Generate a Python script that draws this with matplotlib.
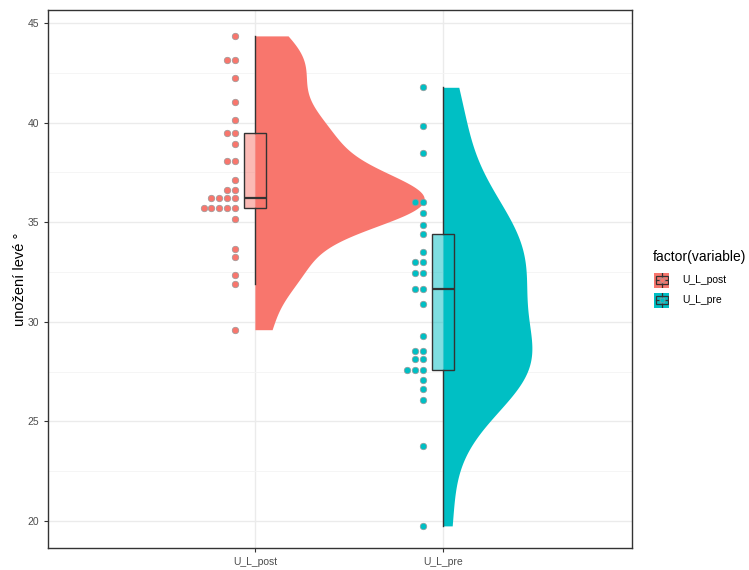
import numpy as np
import matplotlib.pyplot as plt
from matplotlib.colors import to_rgb
from matplotlib.patches import Rectangle

plt.rcParams['font.family'] = ['Liberation Sans', 'DejaVu Sans']

groups = ['U_L_post', 'U_L_pre']
colors = ['#F8766D', '#00BFC4']

# measured values (deg) per group
u_l_post = [44.35, 43.13, 43.13, 42.24, 41.03, 40.15, 39.49, 39.49, 38.94,
            38.06, 38.06, 37.10, 36.62, 36.62, 36.2, 36.2, 36.2, 36.2,
            35.71, 35.71, 35.71, 35.71, 35.71, 35.16, 33.67, 33.25, 32.35,
            31.88, 29.60]
u_l_pre = [41.77, 39.84, 38.47, 36.01, 36.01, 35.48, 34.86, 34.39, 33.49,
           33.02, 33.02, 32.43, 32.43, 31.65, 31.65, 30.88, 29.30, 28.53,
           28.53, 28.13, 28.13, 27.58, 27.58, 27.58, 27.09, 26.61, 26.07,
           23.75, 19.75]
data = [np.array(u_l_post), np.array(u_l_pre)]


def nrd0(x):
    sd = np.std(x, ddof=1)
    iqr = np.subtract(*np.percentile(x, [75, 25]))
    lo = min(sd, iqr / 1.34)
    return 0.9 * lo * len(x) ** -0.2


def kde(x, n=512):
    bw = nrd0(x)
    grid = np.linspace(x.min(), x.max(), n)
    d = np.exp(-0.5 * ((grid[:, None] - x[None, :]) / bw) ** 2).sum(axis=1)
    d /= len(x) * bw * np.sqrt(2 * np.pi)
    return grid, d


dens = [kde(x) for x in data]
dmax = max(d.max() for _, d in dens)

fig = plt.figure(figsize=(7.49, 5.70), dpi=100)
ax = fig.add_axes([48 / 749, 1 - 548 / 570, 584 / 749, 538 / 570])

positions = [1, 2]
vwidth = 0.9
for pos, (grid, d), col in zip(positions, dens, colors):
    ax.fill_betweenx(grid, pos, pos + d / dmax * vwidth, color=col, lw=0, zorder=2)

bp = ax.boxplot(data, positions=positions, widths=0.12, patch_artist=True,
                showfliers=False, showcaps=False, whis=1.5, manage_ticks=False,
                zorder=3)
for box, col in zip(bp['boxes'], colors):
    box.set_facecolor((*to_rgb(col), 0.5))
    box.set_edgecolor('#333333')
    box.set_linewidth(1.0)
for w in bp['whiskers']:
    w.set_color('#333333')
    w.set_linewidth(1.0)
for m in bp['medians']:
    m.set_color('#333333')
    m.set_linewidth(1.6)

# stacked dots to the left of each box
for pos, x, col in zip(positions, data, colors):
    vals, counts = np.unique(x, return_counts=True)
    for v, c in zip(vals, counts):
        xs = pos - 0.108 - 0.041 * np.arange(c)
        ax.scatter(xs, np.full(c, v), s=22, color=col, edgecolors='#999999',
                   linewidths=0.5, zorder=4)

ax.set_xlim(-0.10, 3.005)
ax.set_ylim(18.64, 45.65)
ax.set_xticks(positions)
ax.set_xticklabels(groups)
ax.set_yticks([20, 25, 30, 35, 40, 45])
ax.set_yticks([22.5, 27.5, 32.5, 37.5, 42.5], minor=True)
ax.grid(which='major', color='#EBEBEB', lw=1.0, zorder=0)
ax.grid(which='minor', axis='y', color='#F4F4F4', lw=0.6, zorder=0)
ax.set_axisbelow(True)
ax.tick_params(which='major', length=3, color='#333333', labelsize=7.5,
               labelcolor='#4D4D4D', width=0.8)
ax.tick_params(which='minor', length=0)
for s in ax.spines.values():
    s.set_color('#333333')
    s.set_linewidth(1.0)
ax.set_ylabel('unožení levé °', fontsize=10.5)
ax.yaxis.set_label_coords((27 - 48) / 584, 0.5)

# legend
fig.text(653 / 749, 1 - 257 / 570, 'factor(variable)', fontsize=10,
         va='center', ha='left')
for i, (g, col) in enumerate(zip(groups, colors)):
    yc = 280 + i * 20
    kax = fig.add_axes([654 / 749, 1 - (yc + 7.5) / 570, 15 / 749, 15 / 570])
    kax.set_xlim(0, 1)
    kax.set_ylim(0, 1)
    kax.axis('off')
    kax.add_patch(Rectangle((0, 0), 1, 1, color=col, lw=0))
    kax.plot([0.5, 0.5], [0, 1], color='#333333', lw=0.9)
    kax.add_patch(Rectangle((0.1, 0.25), 0.8, 0.5, facecolor='none',
                            edgecolor='#333333', lw=0.9))
    kax.plot([0.1, 0.9], [0.5, 0.5], color='#333333', lw=0.9)
    kax.scatter([0.5], [0.5], s=14, color=col, edgecolors='#999999',
                linewidths=0.5, zorder=5)
    fig.text(682 / 749, 1 - yc / 570, g, fontsize=7.5, va='center', ha='left')

fig.savefig('out.png', dpi=100)
